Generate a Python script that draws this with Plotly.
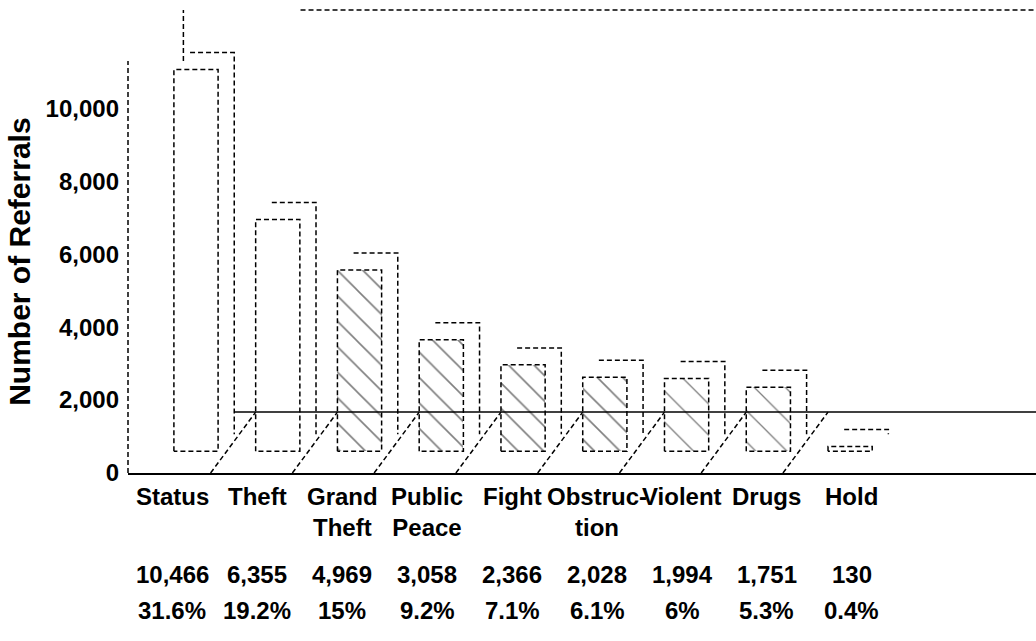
import plotly.graph_objects as go

# ---- data ----
categories = ["Status", "Theft", "Grand<br>Theft", "Public<br>Peace", "Fight",
              "Obstruc-<br>tion", "Violent", "Drugs", "Hold"]
values = [10466, 6355, 4969, 3058, 2366, 2028, 1994, 1751, 130]
percents = ["31.6%", "19.2%", "15%", "9.2%", "7.1%", "6.1%", "6%", "5.3%", "0.4%"]
hatch = ["", "", "\\", "\\", "\\", "\\", "\\", "\\", ""]
y_ticks = [0, 2000, 4000, 6000, 8000, 10000]
y_title = "Number of Referrals"

# ---- style / geometry constants ----
FONT = "Liberation Sans"
BAR_PITCH = 0.962    # bars sit on a slightly tighter pitch than the labels
FRONT_DX = 0.282     # front face offset from first label centre
BAR_W = 0.52
BASE = 600           # floor height of front faces (axis units)
DEPTH_X = 0.19       # 3-D depth offset
DEPTH_Y = 466
FLOOR_BACK = 1670
DIAG_DX = 0.53
X_RANGE = [-0.518, 10.165]
Y_RANGE = [0, 12700]
AXIS_TOP = 11300
LW = 1.5
DASH = "5px,3px"
hatch_size = [14, 14, 18, 18, 18, 18, 22, 22, 14]
hatch_solid = [0.1, 0.1, 0.09, 0.09, 0.09, 0.09, 0.06, 0.06, 0.1]

idx = list(range(len(values)))
bar_x = [FRONT_DX + BAR_PITCH * i for i in idx]
fig = go.Figure()

# back floor line
x_start = bar_x[0] + BAR_W / 2 + DEPTH_X
fig.add_trace(go.Scatter(x=[x_start, X_RANGE[1]], y=[FLOOR_BACK, FLOOR_BACK],
                         mode="lines", line=dict(color="black", width=LW),
                         hoverinfo="skip", showlegend=False))

# floor depth diagonals
dxs, dys = [], []
for bx_c in bar_x[1:]:
    xl = bx_c - BAR_W / 2
    dxs += [xl - DIAG_DX, xl, None]
    dys += [0, FLOOR_BACK, None]
fig.add_trace(go.Scatter(x=dxs, y=dys, mode="lines",
                         line=dict(color="black", width=LW, dash=DASH),
                         hoverinfo="skip", showlegend=False))

# back faces
fig.add_trace(go.Bar(x=[b + DEPTH_X for b in bar_x], y=values,
                     base=BASE + DEPTH_Y, width=BAR_W,
                     marker=dict(color="white", line=dict(width=0)),
                     hoverinfo="skip", showlegend=False))
bx, by = [], []
for b, v in zip(bar_x, values):
    xl = b - BAR_W / 2 + DEPTH_X
    xr = xl + BAR_W
    yt = BASE + DEPTH_Y + v
    yb = BASE + DEPTH_Y
    bx += [xl, xr, xr, None]
    by += [yt, yt, yb, None]
fig.add_trace(go.Scatter(x=bx, y=by, mode="lines",
                         line=dict(color="black", width=LW, dash=DASH),
                         hoverinfo="skip", showlegend=False))

# front faces
fig.add_trace(go.Bar(x=bar_x, y=values, base=BASE, width=BAR_W,
                     marker=dict(color="white", line=dict(width=0),
                                 pattern=dict(shape=hatch, fgcolor="black",
                                              bgcolor="white", size=hatch_size,
                                              solidity=hatch_solid)),
                     hovertemplate="%{y:,}<extra></extra>", showlegend=False))
fx, fy = [], []
for b, v in zip(bar_x, values):
    xl = b - BAR_W / 2
    xr = xl + BAR_W
    fx += [xl, xl, xr, xr, xl, None]
    fy += [BASE, BASE + v, BASE + v, BASE, BASE, None]
fig.add_trace(go.Scatter(x=fx, y=fy, mode="lines",
                         line=dict(color="black", width=LW, dash=DASH),
                         hoverinfo="skip", showlegend=False))

# text rows
tfont = dict(family=FONT, size=24, color="black", weight="bold")
ann = []
for i, c, v, p in zip(idx, categories, values, percents):
    ann.append(dict(x=i, y=-0.017, xref="x", yref="paper", text=c, showarrow=False,
                    xanchor="center", yanchor="top", font=tfont, align="center"))
    ann.append(dict(x=i, y=-0.220, xref="x", yref="paper", text=f"{v:,}", showarrow=False,
                    xanchor="center", yanchor="middle", font=tfont))
    ann.append(dict(x=i, y=-0.298, xref="x", yref="paper", text=p, showarrow=False,
                    xanchor="center", yanchor="middle", font=tfont))
ann.append(dict(x=-0.119, y=0.456, xref="paper", yref="paper", text=y_title,
                showarrow=False, textangle=-90, xanchor="center", yanchor="middle",
                font=dict(family=FONT, size=30, color="black", weight="bold")))

fig.update_layout(
    width=1036, height=641,
    margin=dict(l=128, r=0, t=10, b=168),
    paper_bgcolor="white", plot_bgcolor="white",
    barmode="overlay", bargap=0,
    annotations=ann,
    shapes=[
        dict(type="line", xref="paper", yref="y", x0=0, x1=0, y0=0, y1=AXIS_TOP,
             line=dict(color="black", width=LW, dash=DASH)),
        dict(type="line", xref="paper", yref="paper", x0=0.19, x1=1, y0=1, y1=1,
             line=dict(color="black", width=LW, dash=DASH)),
        dict(type="line", xref="paper", yref="y", x0=0.061, x1=0.061,
             y0=AXIS_TOP, y1=Y_RANGE[1] + 300,
             line=dict(color="black", width=LW, dash=DASH)),
    ],
    xaxis=dict(range=X_RANGE, showticklabels=False, ticks="", showgrid=False,
               zeroline=False, showline=True, linecolor="black", linewidth=LW),
    yaxis=dict(range=Y_RANGE, tickvals=y_ticks, tickformat=",", ticks="",
               showgrid=False, zeroline=False, showline=False,
               ticklabelstandoff=8,
               tickfont=dict(family=FONT, size=24, color="black", weight="bold")),
)

fig.write_html("out.html", config={"displayModeBar": False},
               post_script="document.body.style.margin='0';")
